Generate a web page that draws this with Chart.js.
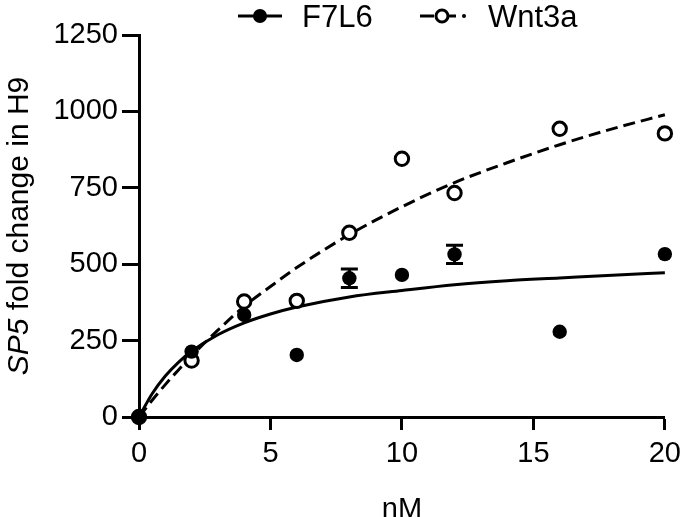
<!DOCTYPE html>
<html><head><meta charset="utf-8">
<style>html,body{margin:0;padding:0;background:#fff;}#wrap{width:688px;height:517px;}</style>
<script src="https://cdn.jsdelivr.net/npm/chart.js@4"></script>
</head><body><div id="wrap"><canvas id="c" width="688" height="517"></canvas></div>
<script>
// ---- data ----
const seriesNames = ['F7L6', 'Wnt3a'];
const doseNM = [0, 2, 4, 6, 8, 10, 12, 16, 20];
const f7l6Values = [0, 214, 334, 203, 454, 465, 532, 279, 533];
const f7l6Errors = [0, 0, 0, 0, 30, 0, 30, 0, 0];
const wnt3aValues = [0, 185, 378, 380, 603, 845, 733, 943, 928];
// fitted curves
const fitDose = [0, 0.5, 1, 1.5, 2, 3, 4, 5, 6, 8, 10, 12, 14, 16, 18, 20];
const f7l6Fit = [0, 76, 134, 179, 215, 269, 308, 337, 360, 393, 414, 433, 446, 455, 464, 472];
const wnt3aFit = [0, 55, 106, 154, 200, 284, 362, 427, 489, 597, 688, 767, 832, 891, 943, 989];
const xTicks = [0, 5, 10, 15, 20];
const yTicks = [0, 250, 500, 750, 1000, 1250];
const xAxisTitle = 'nM';
const yTitleItalic = 'SP5';
const yTitleRest = ' fold change in H9';

const FONT = "'Liberation Sans', Arial, Helvetica, sans-serif";
Chart.defaults.font.family = FONT;
Chart.defaults.color = '#000';

const pts = (xs, ys) => xs.map((x, i) => ({x: x, y: ys[i]}));

const decor = {
  id: 'decor',
  beforeDatasetsDraw(chart) {
    const xs = chart.scales.x, ys = chart.scales.y, ctx = chart.ctx;
    ctx.save();
    ctx.strokeStyle = '#000'; ctx.lineWidth = 3;
    doseNM.forEach((d, i) => {
      const e = f7l6Errors[i];
      if (!e) return;
      const px = xs.getPixelForValue(d);
      const y1 = ys.getPixelForValue(f7l6Values[i] + e);
      const y2 = ys.getPixelForValue(f7l6Values[i] - e);
      ctx.beginPath();
      ctx.moveTo(px, y1); ctx.lineTo(px, y2);
      ctx.moveTo(px - 8.5, y1); ctx.lineTo(px + 8.5, y1);
      ctx.moveTo(px - 8.5, y2); ctx.lineTo(px + 8.5, y2);
      ctx.stroke();
    });
    ctx.restore();
  },
  afterDraw(chart) {
    const ctx = chart.ctx, ca = chart.chartArea;
    ctx.save();
    ctx.fillStyle = '#000'; ctx.strokeStyle = '#000';
    // legend
    ctx.lineWidth = 3;
    ctx.beginPath(); ctx.moveTo(238, 16); ctx.lineTo(282, 16); ctx.stroke();
    ctx.beginPath(); ctx.arc(260, 16, 7, 0, Math.PI * 2); ctx.fill();
    ctx.beginPath(); ctx.moveTo(420, 16); ctx.lineTo(434, 16); ctx.moveTo(449, 16); ctx.lineTo(456, 16); ctx.stroke();
    ctx.beginPath(); ctx.arc(464, 16, 2, 0, Math.PI * 2); ctx.fill();
    ctx.beginPath(); ctx.arc(442, 16, 6, 0, Math.PI * 2);
    ctx.fillStyle = '#fff'; ctx.fill(); ctx.stroke();
    ctx.fillStyle = '#000';
    ctx.font = '31px ' + FONT;
    ctx.textBaseline = 'alphabetic'; ctx.textAlign = 'left';
    ctx.fillText(seriesNames[0], 302, 27);
    ctx.fillText(seriesNames[1], 488, 27);
    // x title
    ctx.font = '29px ' + FONT;
    ctx.textAlign = 'center';
    ctx.fillText(xAxisTitle, (ca.left + ca.right) / 2, 518);
    // y title (mixed italic)
    const fItal = 'italic 30px ' + FONT, fNorm = '30px ' + FONT;
    ctx.font = fItal; const w1 = ctx.measureText(yTitleItalic).width;
    ctx.font = fNorm; const w2 = ctx.measureText(yTitleRest).width;
    const total = w1 + w2;
    ctx.translate(28, (ca.top + ca.bottom) / 2);
    ctx.rotate(-Math.PI / 2);
    ctx.textAlign = 'left';
    ctx.font = fItal; ctx.fillText(yTitleItalic, -total / 2, 0);
    ctx.font = fNorm; ctx.fillText(yTitleRest, -total / 2 + w1, 0);
    ctx.restore();
  }
};

new Chart(document.getElementById('c'), {
  type: 'scatter',
  data: {
    datasets: [
      {label: seriesNames[0], data: pts(doseNM, f7l6Values), pointRadius: 7.2, pointBackgroundColor: '#000', pointBorderWidth: 0, showLine: false, clip: false, order: 0},
      {label: seriesNames[1], data: pts(doseNM, wnt3aValues), pointRadius: 6.7, pointBackgroundColor: '#fff', pointBorderColor: '#000', pointBorderWidth: 3, showLine: false, clip: false, order: 1},
      {label: seriesNames[0] + ' fit', data: pts(fitDose, f7l6Fit), showLine: true, pointRadius: 0, borderColor: '#000', borderWidth: 3, cubicInterpolationMode: 'monotone', clip: false, order: 2},
      {label: seriesNames[1] + ' fit', data: pts(fitDose, wnt3aFit), showLine: true, pointRadius: 0, borderColor: '#000', borderWidth: 3, borderDash: [12, 6], cubicInterpolationMode: 'monotone', clip: false, order: 3}
    ]
  },
  options: {
    responsive: false, animation: false, devicePixelRatio: 1,
    layout: {padding: {top: 35, right: 18, left: 0, bottom: 0}},
    plugins: {legend: {display: false}, tooltip: {enabled: false}},
    scales: {
      x: {
        type: 'linear', min: 0, max: 20,
        afterBuildTicks: s => { s.ticks = xTicks.map(v => ({value: v})); },
        afterFit: s => { s.height = 100; },
        grid: {drawOnChartArea: false, drawTicks: true, tickLength: 13, tickWidth: 3, tickColor: '#000'},
        border: {color: '#000', width: 3},
        ticks: {font: {size: 29}, padding: 7, color: '#000', maxRotation: 0, callback: v => String(v)}
      },
      y: {
        type: 'linear', min: 0, max: 1250,
        afterBuildTicks: s => { s.ticks = yTicks.map(v => ({value: v})); },
        afterFit: s => { s.width = 139; },
        grid: {drawOnChartArea: false, drawTicks: true, tickLength: 17, tickWidth: 3, tickColor: '#000'},
        border: {color: '#000', width: 3},
        ticks: {font: {size: 29}, padding: 4, color: '#000', callback: v => String(v)}
      }
    }
  },
  plugins: [decor]
});
</script>
</body></html>
